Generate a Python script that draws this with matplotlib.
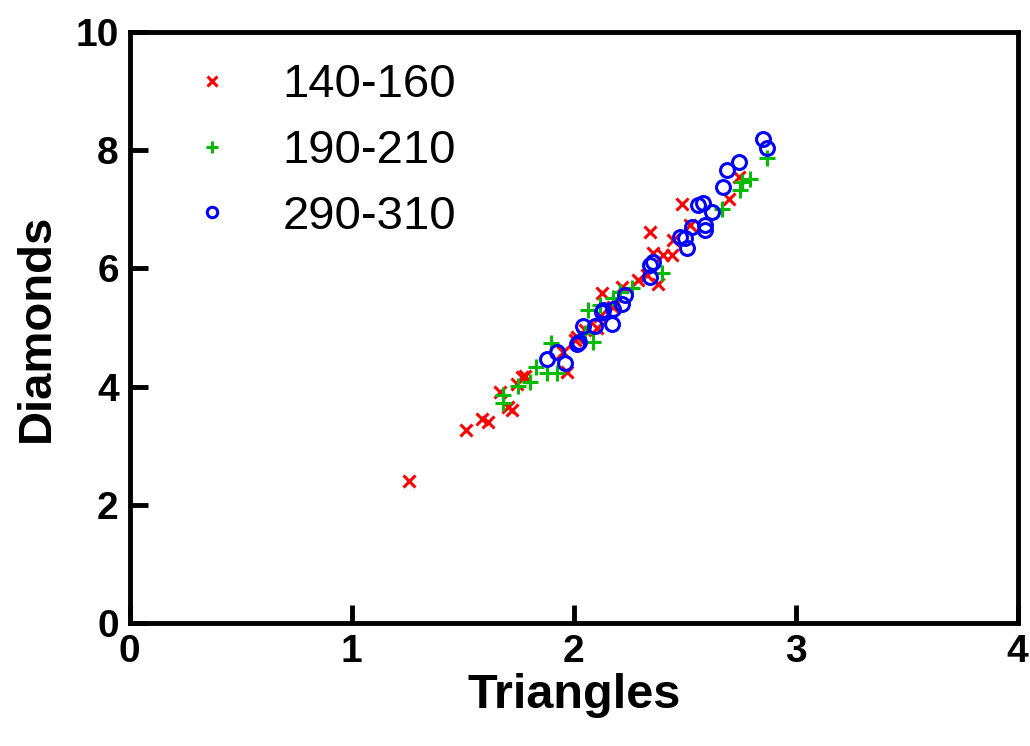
import matplotlib
matplotlib.use("Agg")
import matplotlib.pyplot as plt

plt.rcParams['font.family'] = ['Liberation Sans', 'DejaVu Sans']

labels = ["140-160", "190-210", "290-310"]

red_x = [1.257, 1.514, 1.586, 1.613, 1.667, 1.703, 1.721, 1.743, 1.766, 1.779,
         1.968, 2.005, 1.950, 2.014, 2.104, 2.126, 2.176, 2.216, 2.288, 2.329,
         2.378, 2.356, 2.401, 2.441, 2.342, 2.446, 2.523, 2.486, 2.698, 2.743,
         2.050, 2.120]
red_y = [2.40, 3.27, 3.45, 3.40, 3.91, 3.65, 3.60, 4.04, 4.16, 4.18,
         4.25, 4.79, 4.59, 4.84, 4.99, 5.58, 5.35, 5.69, 5.80, 5.89,
         5.74, 6.26, 6.23, 6.23, 6.62, 6.48, 6.73, 7.09, 7.17, 7.55,
         4.96, 5.20]

green_x = [1.680, 1.680, 1.748, 1.802, 1.829, 1.878, 1.923, 1.896, 2.063, 2.050,
           2.086, 2.176, 2.261, 2.396, 2.667, 2.748, 2.757, 2.793, 2.869, 2.117,
           2.207]
green_y = [3.86, 3.72, 4.01, 4.08, 4.33, 4.23, 4.23, 4.74, 5.30, 4.91,
           4.75, 5.50, 5.67, 5.92, 7.00, 7.33, 7.46, 7.51, 7.87, 5.38,
           5.60]

blue_x = [1.878, 1.923, 1.959, 2.014, 2.023, 2.041, 2.095, 2.126, 2.131, 2.171,
          2.176, 2.216, 2.230, 2.342, 2.356, 2.342, 2.477, 2.500, 2.509, 2.532,
          2.590, 2.590, 2.559, 2.581, 2.622, 2.671, 2.689, 2.743, 2.851, 2.869]
blue_y = [4.47, 4.59, 4.40, 4.72, 4.75, 5.03, 5.03, 5.26, 5.30, 5.06,
          5.31, 5.40, 5.55, 6.06, 6.11, 5.85, 6.53, 6.51, 6.35, 6.70,
          6.73, 6.65, 7.07, 7.11, 6.95, 7.38, 7.66, 7.80, 8.19, 8.04]

x_ticks = [0, 1, 2, 3, 4]
y_ticks = [0, 2, 4, 6, 8, 10]

fig = plt.figure(figsize=(10.3, 7.46), dpi=100)
ax = fig.add_axes([0.126, 0.165, 0.862, 0.792])

ax.plot(red_x, red_y, linestyle='none', marker='x', color='#ff0000',
        markersize=9, markeredgewidth=2.2, label=labels[0])
ax.plot(green_x, green_y, linestyle='none', marker='+', color='#00bb00',
        markersize=12, markeredgewidth=2.2, label=labels[1])
ax.plot(blue_x, blue_y, linestyle='none', marker='o', markerfacecolor='none',
        markeredgecolor='#0000ff', markersize=10, markeredgewidth=2.2, label=labels[2])

ax.set_xlim(0, 4)
ax.set_ylim(0, 10)
ax.set_xticks(x_ticks)
ax.set_yticks(y_ticks)
ax.tick_params(direction='in', length=13, width=3.5, labelsize=28, pad=8)
for lab in ax.get_xticklabels() + ax.get_yticklabels():
    lab.set_fontweight('bold')
for s in ax.spines.values():
    s.set_linewidth(3.5)

ax.set_xlabel("Triangles", fontsize=35, fontweight='bold', labelpad=2)
ax.set_ylabel("Diamonds", fontsize=34, fontweight='bold', labelpad=12)

leg = ax.legend(loc='upper left', frameon=False, fontsize=34, markerscale=0.75,
                handlelength=1.0, handletextpad=1.0, labelspacing=0.46,
                borderaxespad=0.2, bbox_to_anchor=(0.034, 0.995))

fig.savefig("out.png", dpi=100)
